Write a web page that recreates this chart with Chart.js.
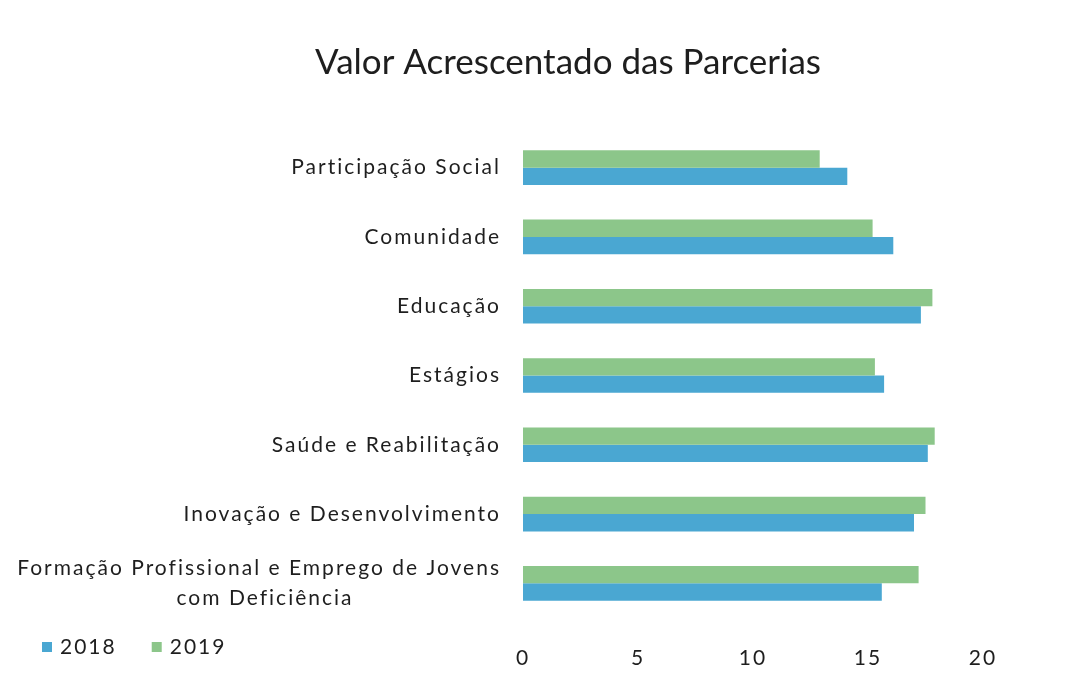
<!DOCTYPE html>
<html>
<head>
<meta charset="utf-8">
<script src="https://cdn.jsdelivr.net/npm/chart.js@4"></script>
<style>
  body { margin: 0; background: #fff; }
  #wrap { width: 1071px; height: 674px; }
</style>
</head>
<body>
<div id="wrap"><canvas id="myChart"></canvas></div>
<script>
// chart data
var categories = [
    'Participação Social',
    'Comunidade',
    'Educação',
    'Estágios',
    'Saúde e Reabilitação',
    'Inovação e Desenvolvimento',
    ['Formação Profissional e Emprego de Jovens', 'com Deficiência']
];
var values2018 = [14.1, 16.1, 17.3, 15.7, 17.6, 17.0, 15.6];
var values2019 = [12.9, 15.2, 17.8, 15.3, 17.9, 17.5, 17.2];
var xTicks = [0, 5, 10, 15, 20];

var labelFont = '21px Lato';
var textColor = '#1e1e1e';
var spacing = '2px'; // the scanned labels are spaced out a bit

// pad the second line so it sits centred under the first (labels are right aligned)
var mctx = document.createElement('canvas').getContext('2d');
mctx.font = labelFont;
mctx.letterSpacing = spacing;
var labels = categories.map(function(c) {
    if (!Array.isArray(c)) return c;
    var w0 = mctx.measureText(c[0]).width;
    var line = c[1];
    var target = mctx.measureText(line).width + (w0 - mctx.measureText(line).width) / 2;
    while (mctx.measureText(line + ' ').width <= target) line += ' ';
    return [c[0], line];
});

var letterSpacing = {
    id: 'letterSpacing',
    afterInit: function(chart) {
        var tb = chart.titleBlock;
        var draw = tb.draw;
        tb.draw = function() {
            chart.ctx.letterSpacing = '0px';
            draw.apply(tb, arguments);
            chart.ctx.letterSpacing = spacing;
        };
    },
    // title in the original is centred a bit right of the canvas middle
    afterLayout: function(chart) { chart.titleBlock.left = 153; },
    beforeUpdate: function(chart) { chart.ctx.letterSpacing = spacing; },
    beforeDraw: function(chart) { chart.ctx.letterSpacing = spacing; }
};

// legend drawn under the category labels, like the original
var bottomLegend = {
    id: 'bottomLegend',
    afterDraw: function(chart) {
        var c = chart.ctx;
        var x = 42, y = 647;
        c.save();
        c.font = labelFont;
        c.textBaseline = 'middle';
        c.textAlign = 'left';
        chart.data.datasets.forEach(function(ds) {
            c.fillStyle = ds.backgroundColor;
            c.fillRect(x, y - 5, 10, 10);
            c.fillStyle = textColor;
            c.fillText(ds.label, x + 18, y);
            x += 18 + c.measureText(ds.label).width + 35;
        });
        c.restore();
    }
};

var ctx = document.getElementById('myChart').getContext('2d');
var myChart = new Chart(ctx, {
    type: 'bar',
    data: {
        labels: labels,
        datasets: [{
            label: '2018',
            data: values2018,
            backgroundColor: '#4aa7d2',
            order: 2,
            barPercentage: 1,
            categoryPercentage: 0.5
        }, {
            label: '2019',
            data: values2019,
            backgroundColor: '#8cc68a',
            order: 1,
            barPercentage: 1,
            categoryPercentage: 0.5
        }]
    },
    plugins: [letterSpacing, bottomLegend],
    options: {
        indexAxis: 'y',
        responsive: true,
        maintainAspectRatio: false,
        animation: false,
        layout: {
            padding: { left: 0, right: 88, top: 0, bottom: 0 }
        },
        plugins: {
            legend: { display: false },
            tooltip: { enabled: false },
            title: {
                display: true,
                text: 'Valor Acrescentado das Parcerias',
                color: textColor,
                font: { family: 'Lato', size: 35, weight: 'normal' },
                padding: { top: 42, bottom: 49 }
            }
        },
        scales: {
            x: {
                min: 0,
                max: 20,
                afterBuildTicks: function(scale) {
                    scale.ticks = xTicks.map(function(v) { return { value: v }; });
                },
                afterFit: function(scale) { scale.height = 56; },
                grid: { display: false, drawTicks: false },
                border: { display: false },
                ticks: {
                    color: textColor,
                    font: { family: 'Lato', size: 21 },
                    padding: 28,
                    maxRotation: 0
                }
            },
            y: {
                grid: { display: false, drawTicks: false },
                border: { display: false },
                afterFit: function(scale) { scale.width = 523; },
                ticks: {
                    color: textColor,
                    font: { family: 'Lato', size: 21, lineHeight: 1.45 },
                    padding: 22,
                    autoSkip: false
                }
            }
        }
    }
});
</script>
</body>
</html>
